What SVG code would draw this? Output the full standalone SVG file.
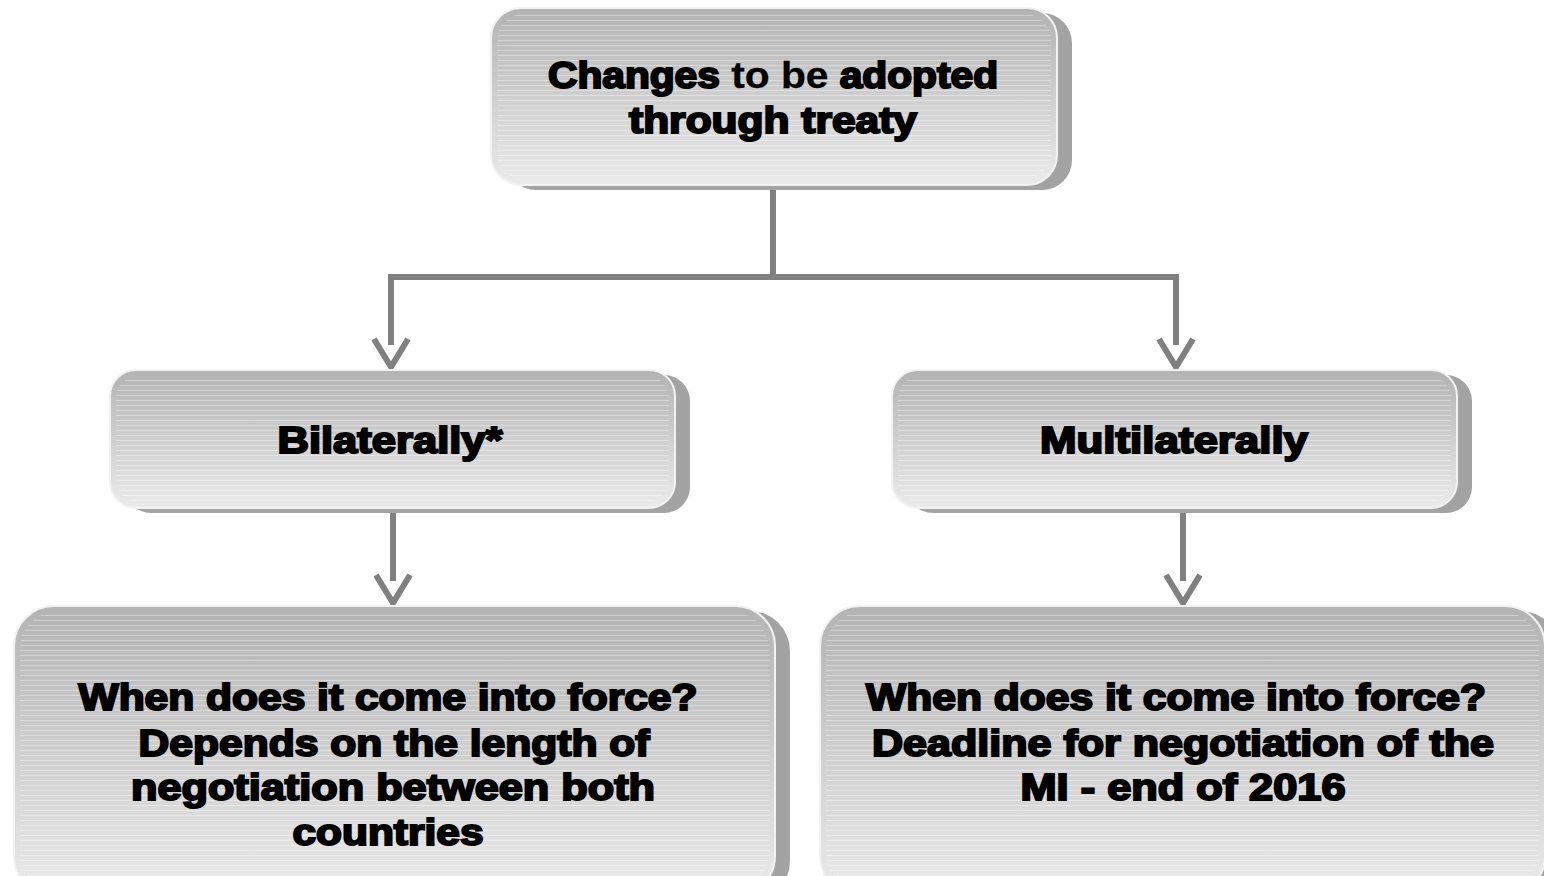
<svg xmlns="http://www.w3.org/2000/svg" width="1544" height="876" viewBox="0 0 1544 876">
<defs>
<linearGradient id="g" x1="0" y1="0" x2="0" y2="1">
<stop offset="0" stop-color="#b3b3b3"/>
<stop offset="1" stop-color="#ebebeb"/>
</linearGradient>
<pattern id="stripes" width="8" height="5" patternUnits="userSpaceOnUse">
<rect x="0" y="0" width="8" height="1" fill="#ffffff" opacity="0.35"/>
</pattern>
<marker id="arr" viewBox="0 0 34 40" refX="9" refY="20" markerWidth="34" markerHeight="40" markerUnits="userSpaceOnUse" orient="auto">
<path d="M3,3 L31,20 L3,37" fill="none" stroke="#808080" stroke-width="6"/>
</marker>
</defs>
<style>
.sh{fill:#a3a3a3}
.bx{fill:url(#g);stroke:#f2f2f2;stroke-width:2}
.st{fill:url(#stripes)}
.t{font-family:"Liberation Sans",Arial,sans-serif;font-weight:bold;fill:#000;stroke:#000;stroke-width:2;text-anchor:middle;font-size:36px}
.lt{stroke-width:0.3}
.c{fill:none;stroke:#808080;stroke-width:6}
</style>
<rect width="1544" height="876" fill="#ffffff"/>
<g id="connectors">
<path class="c" d="M773,185 V277 M388,277 H1179"/>
<path class="c" d="M391,277 V345" marker-end="url(#arr)"/>
<path class="c" d="M1176,277 V345" marker-end="url(#arr)"/>
<path class="c" d="M393,503 V581" marker-end="url(#arr)"/>
<path class="c" d="M1183,503 V581" marker-end="url(#arr)"/>
</g>
<g id="node-top">
<rect class="sh" x="506" y="13" width="566" height="177" rx="30"/>
<rect class="bx" x="491" y="8" width="566" height="177" rx="30"/>
<rect class="st" x="497" y="14" width="554" height="165" rx="26"/>
<text class="t" x="773" y="88" textLength="450" lengthAdjust="spacingAndGlyphs">Changes <tspan class="lt">to be</tspan> adopted</text>
<text class="t" x="773" y="133" textLength="288" lengthAdjust="spacingAndGlyphs">through treaty</text>
</g>
<g id="node-bilateral">
<rect class="sh" x="125" y="375" width="565" height="138" rx="26"/>
<rect class="bx" x="110" y="370" width="565" height="138" rx="26"/>
<rect class="st" x="116" y="376" width="553" height="126" rx="22"/>
<text class="t" x="390" y="453" textLength="225" lengthAdjust="spacingAndGlyphs">Bilaterally*</text>
</g>
<g id="node-multilateral">
<rect class="sh" x="907" y="375" width="565" height="138" rx="26"/>
<rect class="bx" x="892" y="370" width="565" height="138" rx="26"/>
<rect class="st" x="898" y="376" width="553" height="126" rx="22"/>
<text class="t" x="1174" y="453" textLength="268" lengthAdjust="spacingAndGlyphs">Multilaterally</text>
</g>
<g id="node-bilateral-force">
<rect class="sh" x="29" y="611" width="761" height="290" rx="40"/>
<rect class="bx" x="14" y="606" width="761" height="290" rx="40"/>
<rect class="st" x="20" y="612" width="749" height="278" rx="36"/>
<text class="t" x="388" y="710" textLength="619" lengthAdjust="spacingAndGlyphs">When does it come into force?</text>
<text class="t" x="394" y="756" textLength="511" lengthAdjust="spacingAndGlyphs">Depends on the length of</text>
<text class="t" x="393" y="800" textLength="524" lengthAdjust="spacingAndGlyphs">negotiation between both</text>
<text class="t" x="388" y="845" textLength="191" lengthAdjust="spacingAndGlyphs">countries</text>
</g>
<g id="node-multilateral-force">
<rect class="sh" x="835" y="611" width="725" height="290" rx="40"/>
<rect class="bx" x="820" y="606" width="725" height="290" rx="40"/>
<rect class="st" x="826" y="612" width="713" height="278" rx="36"/>
<text class="t" x="1176" y="710" textLength="620" lengthAdjust="spacingAndGlyphs">When does it come into force?</text>
<text class="t" x="1183" y="756" textLength="622" lengthAdjust="spacingAndGlyphs">Deadline for negotiation of the</text>
<text class="t" x="1183" y="800" textLength="325" lengthAdjust="spacingAndGlyphs">MI - end of 2016</text>
</g>
</svg>
